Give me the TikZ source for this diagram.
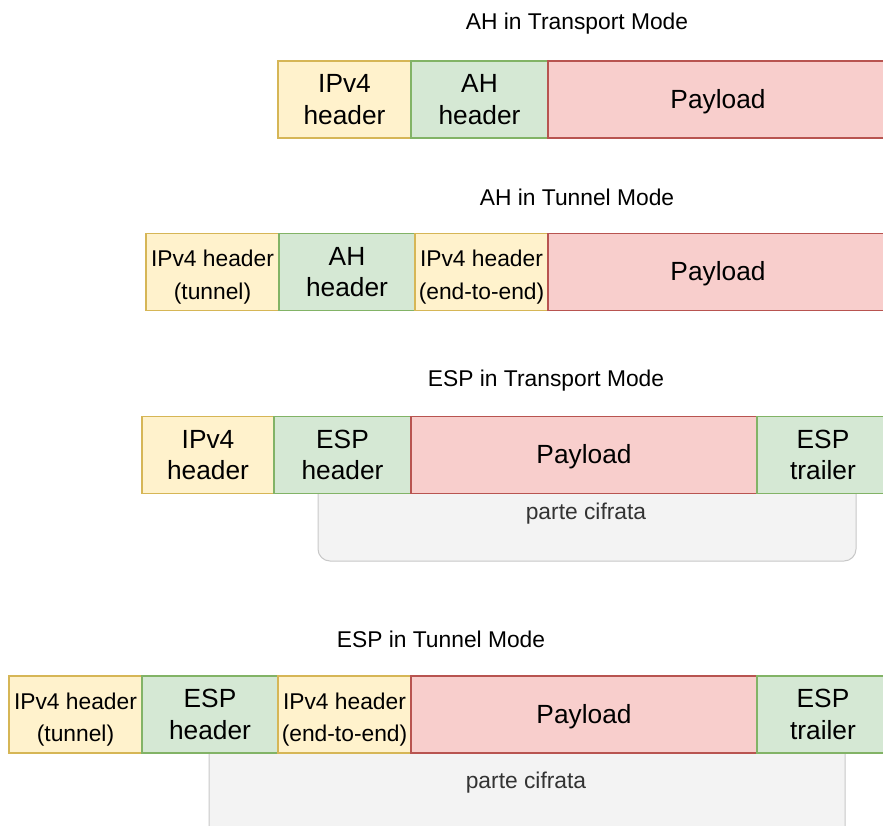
\documentclass[tikz,border=0pt]{standalone}
\usepackage{fontspec}
\setmainfont{Liberation Sans}
\usetikzlibrary{positioning}

\definecolor{hdrfill}{HTML}{FFF2CC}
\definecolor{hdrline}{HTML}{D6B656}
\definecolor{secfill}{HTML}{D5E8D4}
\definecolor{secline}{HTML}{82B366}
\definecolor{payfill}{HTML}{F8CECC}
\definecolor{payline}{HTML}{B85450}
\definecolor{cipfill}{HTML}{F3F3F3}
\definecolor{cipline}{HTML}{C8C8C8}
\definecolor{notegray}{HTML}{333333}

\newcommand{\cellfont}{\fontsize{26.3}{31.5}\selectfont}
\newcommand{\notefont}{\fontsize{22.8}{32.5}\selectfont}
\newcommand{\tallstrut}{\rule{0pt}{26.5pt}}

\begin{document}
\begin{tikzpicture}[
    x=1pt, y=-1pt,
    node distance=0pt,
    cell/.style={rectangle, draw, line width=1.3pt, minimum height=77pt,
                 outer sep=0pt, inner sep=0pt, align=center, font=\cellfont,
                 execute at begin node={\rule{0pt}{22.5pt}}},
    iphdr/.style={cell, fill=hdrfill, draw=hdrline},
    sechdr/.style={cell, fill=secfill, draw=secline},
    payload/.style={cell, fill=payfill, draw=payline},
    small/.style={font=\notefont},
    title/.style={font=\notefont},
    ciphered/.style={rectangle, draw=cipline, fill=cipfill, line width=1pt,
                     rounded corners=12pt, outer sep=0pt},
    note/.style={font=\notefont, text=notegray}
  ]
    \useasboundingbox (0,0) rectangle (883,825);

    % AH, transport mode
    \node[title] (t1) at (577,24) {AH in Transport Mode};
    \node[iphdr, minimum width=133pt] (ip1) at (344.5,99.5) {IPv4\\header};
    \node[sechdr, minimum width=137pt, right=of ip1] (ah1) {AH\\header};
    \node[payload, minimum width=340pt, right=of ah1] (pl1) {Payload};

    % AH, tunnel mode
    \node[title] (t2) at (577,197) {AH in Tunnel Mode};
    \node[iphdr, small, minimum width=133pt] (tip2) at (212.5,272) {\tallstrut IPv4 header\\(tunnel)};
    \node[sechdr, minimum width=136pt, right=of tip2] (ah2) {AH\\header};
    \node[iphdr, small, minimum width=133pt, right=of ah2] (ip2) {\tallstrut IPv4 header\\(end-to-end)};
    \node[payload, minimum width=340pt, right=of ip2] (pl2) {Payload};

    % ESP, transport mode
    \node[title] (t3) at (546,381) {ESP in Transport Mode};
    \node[ciphered, minimum width=538pt, minimum height=91pt] (enc3) at (587,515.5) {};
    \node[note] (n3) at (586,514) {parte cifrata};
    \node[iphdr, minimum width=132pt] (ip3) at (208,455) {IPv4\\header};
    \node[sechdr, minimum width=137pt, right=of ip3] (esp3) {ESP\\header};
    \node[payload, minimum width=346pt, right=of esp3] (pl3) {Payload};
    \node[sechdr, minimum width=132pt, right=of pl3] (tr3) {ESP\\trailer};

    % ESP, tunnel mode
    \node[title] (t4) at (441,639) {ESP in Tunnel Mode};
    \node[ciphered, minimum width=636pt, minimum height=100pt] (enc4) at (527,790) {};
    \node[note] (n4) at (526,783) {parte cifrata};
    \node[iphdr, small, minimum width=133pt] (tip4) at (75.5,714.5) {\tallstrut IPv4 header\\(tunnel)};
    \node[sechdr, minimum width=136pt, right=of tip4] (esp4) {ESP\\header};
    \node[iphdr, small, minimum width=133pt, right=of esp4] (ip4) {\tallstrut IPv4 header\\(end-to-end)};
    \node[payload, minimum width=346pt, right=of ip4] (pl4) {Payload};
    \node[sechdr, minimum width=132pt, right=of pl4] (tr4) {ESP\\trailer};
\end{tikzpicture}
\end{document}
